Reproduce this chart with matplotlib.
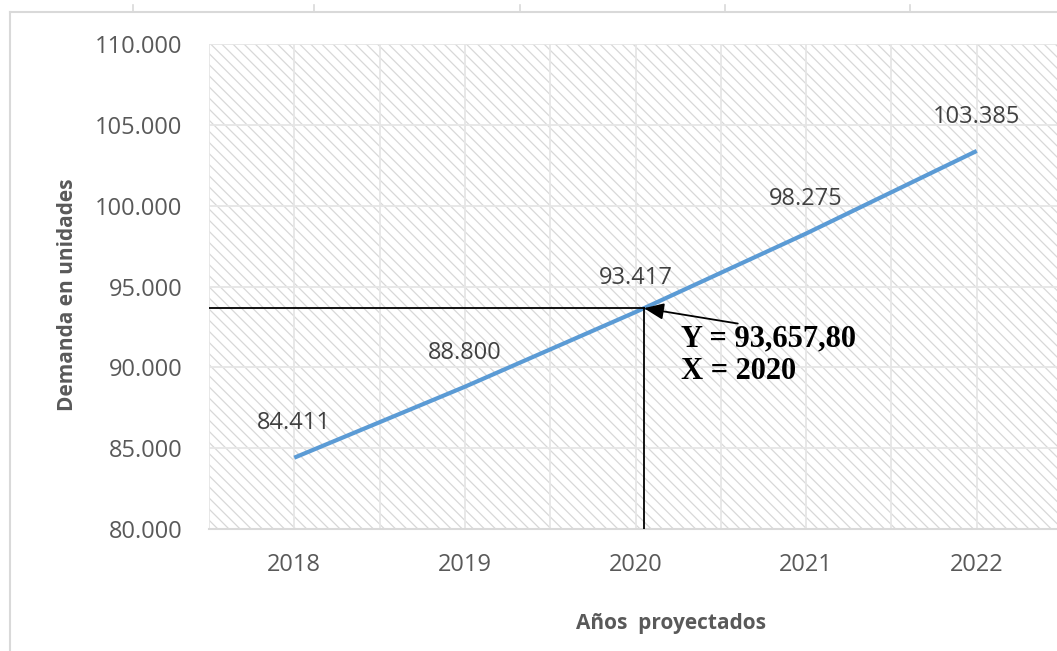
import numpy as np
import matplotlib
matplotlib.use('Agg')
import matplotlib.pyplot as plt
from matplotlib.patches import Rectangle
from matplotlib.lines import Line2D
from matplotlib.ticker import FuncFormatter

# proyección de la demanda
years = ['2018', '2019', '2020', '2021', '2022']
demand = [84411, 88800, 93417, 98275, 103385]
point_y = 93657.80
point_label = 'Y = 93,657,80\nX = 2020'

plt.rcParams['font.family'] = ['Open Sans', 'DejaVu Sans']
plt.rcParams['hatch.linewidth'] = 0.9

W, H = 1057, 651
fig = plt.figure(figsize=(W / 100, H / 100), dpi=100)
fig.patch.set_facecolor('white')

grid_c = '#d9d9d9'
text_c = '#595959'
line_c = '#5b9bd5'

# outer chart frame with small ticks along the top
fig.add_artist(Line2D([10 / W, 10 / W], [0, 1 - 12 / H], color=grid_c, lw=1.5))
fig.add_artist(Line2D([10 / W, 1], [1 - 12 / H, 1 - 12 / H], color=grid_c, lw=1.5))
for tx in [133, 314, 520, 725, 910]:
    fig.add_artist(Line2D([tx / W, tx / W], [1 - 12 / H, 1 - 5 / H], color=grid_c, lw=1.2))

ax = fig.add_axes([209 / W, 1 - 529 / H, 853 / W, 485 / H])
x = np.arange(len(years))

# hatched plot area
ax.add_patch(Rectangle((0, 0), 1, 1, transform=ax.transAxes, facecolor='white',
                       edgecolor='#d8d8d8', hatch='\\\\\\', lw=0, zorder=0))

ax.set_xlim(-0.5, len(years) - 0.5)
ax.set_ylim(80000, 110000)
ax.set_yticks(np.arange(80000, 110001, 5000))
ax.yaxis.set_major_formatter(FuncFormatter(lambda v, p: f'{int(v):,}'.replace(',', '.')))
ax.set_xticks(x)
ax.set_xticklabels(years)
for v in np.arange(-0.5, len(years), 0.5):
    ax.axvline(v, color='#e6e6e6', lw=1.3, zorder=1)
for v in np.arange(85000, 110001, 5000):
    ax.axhline(v, color='#e6e6e6', lw=1.3, zorder=1)

for s in ['top', 'right', 'left']:
    ax.spines[s].set_visible(False)
ax.spines['bottom'].set_color(grid_c)
ax.spines['bottom'].set_linewidth(1.5)
ax.tick_params(length=0, labelsize=17, labelcolor=text_c)
ax.tick_params(axis='y', pad=19)
ax.tick_params(axis='x', pad=17)

ax.plot(x, demand, color=line_c, lw=3, solid_capstyle='butt', zorder=3)
for xi, v in zip(x, demand):
    ax.annotate(f'{v:,}'.replace(',', '.'), (xi, v), xytext=(0, 16), textcoords='offset points',
                ha='center', va='bottom', fontsize=17, color='#404040', zorder=4)

# punto de lectura sobre la recta
xp = np.interp(point_y, demand, x)
ax.plot([-0.5, xp], [point_y, point_y], color='black', lw=1.3, zorder=5)
ax.plot([xp, xp], [point_y, 80000], color='black', lw=1.3, zorder=5)
ax.annotate('', xy=(xp, point_y), xytext=(xp + 0.55, point_y - 950),
            arrowprops=dict(arrowstyle='-|>,head_length=1.2,head_width=0.5', color='black', lw=1.3,
                            shrinkA=0, shrinkB=0), zorder=6)
ax.text(xp + 0.22, point_y - 1000, point_label, fontsize=22, fontweight='bold', family='Liberation Serif',
        ha='left', va='top', linespacing=1.15, zorder=6)

ax.set_ylabel('Demanda en unidades', fontsize=15, fontweight='bold', color=text_c)
ax.yaxis.set_label_coords(-0.154, 0.483)
ax.set_xlabel('Años  proyectados', fontsize=15, fontweight='bold', color=text_c)
ax.xaxis.set_label_coords(0.542, -0.173)

fig.savefig('out.png', dpi=100, facecolor='white')
